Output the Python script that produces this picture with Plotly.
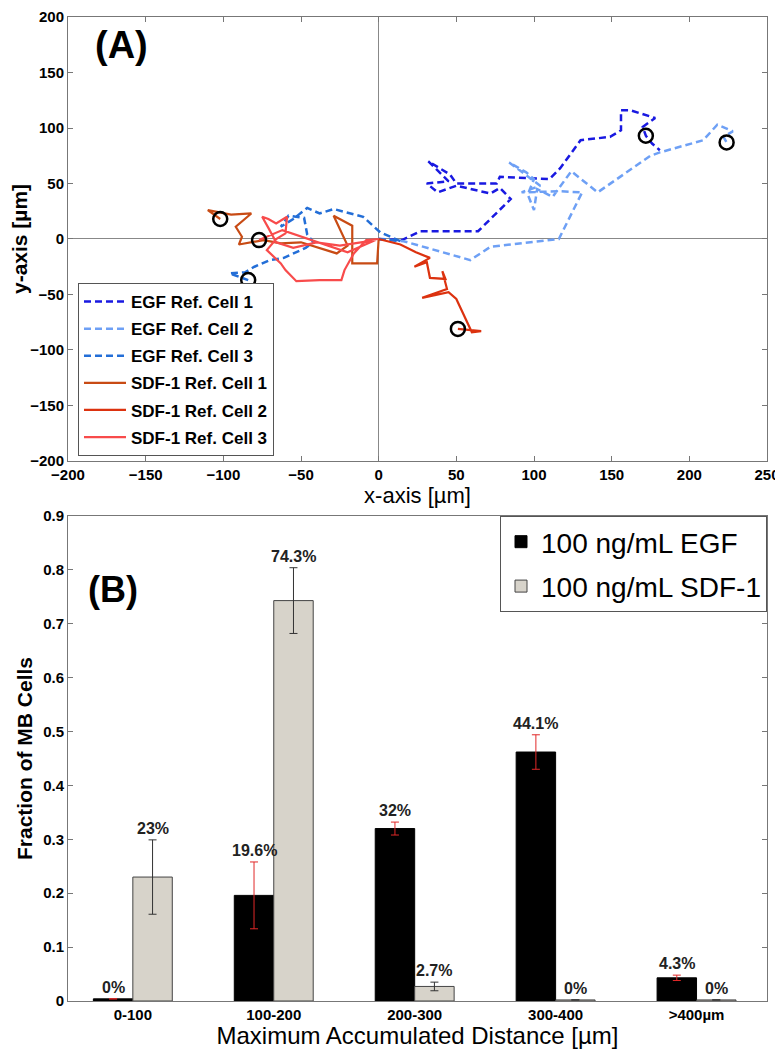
import plotly.graph_objects as go

# ---------------- Panel A data (trajectories, µm) ----------------
egf1_x = [0, 15, 27, 64, 85, 78, 72, 62, 50, 38, 31, 45, 32, 46, 50, 66, 76, 78, 110, 117, 130, 149, 156, 156, 162, 178, 170, 172, 176, 181]
egf1_y = [0, -1, 7, 7, 36, 46, 41, 44, 48, 42, 50, 52, 70, 58, 50, 50, 50, 56, 54, 64, 89, 92, 98, 116, 116, 109, 101, 93, 86, 80]
egf2_x = [0, 16, 59, 72, 116, 131, 117, 92, 104, 84, 95, 100, 96, 100, 102, 112, 124, 141, 175, 181, 209, 218, 228, 222, 224]
egf2_y = [0, -2, -19, -7, 0, 42, 43, 42, 48, 69, 60, 54, 40, 26, 45, 38, 61, 42, 75, 78, 89, 103, 97, 92, 87]
egf3_x = [0, 14, 1, -10, -29, -38, -46, -55, -63, -58, -48, -46, -42, -47, -61, -70, -80, -86, -96, -90, -84]
egf3_y = [0, -2, 6, 20, 27, 23, 28, 18, 11, 21, 19, 4, -3, -8, -17, -19, -25, -30, -31, -34, -37]
sdf1_x = [0, -1, -17, -17, -29, -20, -27, -38, -50, -63, -74, -90, -88, -92, -82, -95, -110, -102]
sdf1_y = [0, -22, -22, 12, 21, -6, -13, -8, -3, -4, -1, -5, 2, 11, 23, 22, 26, 18]
sdf2_x = [0, 14, 24, 33, 23, 31, 33, 43, 41, 44, 28, 45, 50, 60, 66, 51]
sdf2_y = [0, -5, -12, -17, -25, -21, -35, -36, -29, -45, -53, -48, -54, -84, -83, -81]
sdf3_x = [0, -8, -16, -22, -24, -38, -53, -60, -63, -72, -66, -60, -59, -66, -71, -75, -71, -66, -55, -40, -25, -2, -20, -45, -62, -77]
sdf3_y = [0, -1, -13, -28, -37, -37, -38, -28, -22, -10, 0, 5, 20, 14, 18, 20, 10, -3, -8, -3, -6, -1, -12, 0, 8, -1]
end_x = [172, 224, -84, -102, 51, -77]
end_y = [93, 87, -37, 18, -81, -1]

traj_names = ["EGF Ref. Cell 1", "EGF Ref. Cell 2", "EGF Ref. Cell 3",
              "SDF-1 Ref. Cell 1", "SDF-1 Ref. Cell 2", "SDF-1 Ref. Cell 3"]
traj_x = [egf1_x, egf2_x, egf3_x, sdf1_x, sdf2_x, sdf3_x]
traj_y = [egf1_y, egf2_y, egf3_y, sdf1_y, sdf2_y, sdf3_y]
traj_colors = ["rgb(25,25,225)", "rgb(110,160,245)", "rgb(35,110,215)",
               "rgb(200,75,20)", "rgb(220,50,15)", "rgb(248,75,75)"]
traj_dash = ["7px,4px", "7px,4px", "7px,4px", "solid", "solid", "solid"]

# ---------------- Panel B data ----------------
categories = ["0-100", "100-200", "200-300", "300-400", ">400µm"]
egf_vals = [0.004, 0.196, 0.320, 0.462, 0.043]
egf_err = [0.0, 0.062, 0.012, 0.032, 0.005]
sdf_vals = [0.230, 0.743, 0.027, 0.002, 0.002]
sdf_err = [0.069, 0.061, 0.008, 0.0, 0.0]
egf_labels = ["0%", "19.6%", "32%", "44.1%", "4.3%"]
sdf_labels = ["23%", "74.3%", "2.7%", "0%", "0%"]

FONT = "Liberation Sans, Arial, sans-serif"

fig = go.Figure()

for i in range(6):
    fig.add_trace(go.Scatter(
        x=traj_x[i], y=traj_y[i], mode="lines", name=traj_names[i],
        line=dict(color=traj_colors[i], width=2.5 if i < 3 else 2.2, dash=traj_dash[i]),
        xaxis="x", yaxis="y", legend="legend", legendgroup=f"g{i}",
    ))
fig.add_trace(go.Scatter(
    x=end_x, y=end_y, mode="markers", showlegend=False,
    marker=dict(symbol="circle-open", size=14, color="black", line=dict(width=2.5)),
    xaxis="x", yaxis="y",
))

idx = list(range(len(categories)))
bw = 0.28
fig.add_trace(go.Bar(
    x=idx, y=egf_vals, name="100 ng/mL EGF", width=bw, offset=-bw,
    marker=dict(color="black", line=dict(color="black", width=1)),
    error_y=dict(type="data", array=egf_err, color="rgb(225,40,40)", thickness=1, width=4),
    xaxis="x2", yaxis="y2", legend="legend2", legendgroup="b1",
))
fig.add_trace(go.Bar(
    x=idx, y=sdf_vals, name="100 ng/mL SDF-1", width=bw, offset=0,
    marker=dict(color="rgb(215,211,202)", line=dict(color="#444", width=1)),
    error_y=dict(type="data", array=sdf_err, color="#333", thickness=1, width=4),
    xaxis="x2", yaxis="y2", legend="legend2", legendgroup="b2",
))

lab_font = dict(family=FONT, size=16, color="#222", weight="bold")
annotations = []
for i in idx:
    annotations.append(dict(x=i - bw / 2, y=egf_vals[i] + egf_err[i], xref="x2", yref="y2",
                            text=egf_labels[i], showarrow=False, yanchor="bottom", yshift=1,
                            font=lab_font))
    annotations.append(dict(x=i + bw / 2, y=sdf_vals[i] + sdf_err[i], xref="x2", yref="y2",
                            text=sdf_labels[i], showarrow=False, yanchor="bottom", yshift=1,
                            font=lab_font))
annotations.append(dict(x=0.076, y=0.9715, xref="paper", yref="paper", text="(A)", showarrow=False,
                        xanchor="center", yanchor="middle",
                        font=dict(family=FONT, size=38, color="black", weight="bold")))
annotations.append(dict(x=0.064, y=0.4177, xref="paper", yref="paper", text="(B)", showarrow=False,
                        xanchor="center", yanchor="middle",
                        font=dict(family=FONT, size=36, color="black", weight="bold")))

tickfont = dict(family=FONT, size=15, color="black", weight="bold")
axis_common = dict(showline=True, linecolor="#777", linewidth=1, mirror="ticks",
                   ticks="inside", ticklen=5, tickcolor="#777", showgrid=False,
                   tickfont=tickfont, automargin=False, ticklabeloverflow="allow")

fig.update_layout(
    width=775, height=1041,
    margin=dict(l=60, r=16, t=9, b=48),
    paper_bgcolor="white", plot_bgcolor="white",
    barmode="overlay",
    xaxis=dict(domain=[0, 1], anchor="y", range=[-200, 250], tickvals=list(range(-200, 251, 50)),
               zeroline=True, zerolinecolor="#888", zerolinewidth=1,
               title=dict(text="x-axis [µm]", standoff=0,
                          font=dict(family=FONT, size=22, color="black")),
               **axis_common),
    yaxis=dict(domain=[0.5488, 1], anchor="x", range=[-200, 200], tickvals=list(range(-200, 201, 50)),
               zeroline=True, zerolinecolor="#888", zerolinewidth=1,
               title=dict(text="y-axis [µm]", standoff=3,
                          font=dict(family=FONT, size=21, color="black", weight="bold")),
               **axis_common),
    xaxis2=dict(domain=[0, 1], anchor="y2", range=[-0.46, 4.5], tickvals=idx, ticktext=categories,
                zeroline=False,
                title=dict(text="Maximum Accumulated Distance [µm]", standoff=0,
                           font=dict(family=FONT, size=24, color="black")),
                **{**axis_common, "ticks": ""}),
    yaxis2=dict(domain=[0, 0.4929], anchor="x2", range=[0, 0.9], tickvals=[i / 10 for i in range(10)],
                ticktext=["0"] + [f"{i / 10:.1f}" for i in range(1, 10)], zeroline=False,
                title=dict(text="Fraction of MB Cells", standoff=4,
                           font=dict(family=FONT, size=21, color="black", weight="bold")),
                **axis_common),
    legend=dict(x=0.0143, y=0.7297, xanchor="left", yanchor="top", bgcolor="white",
                bordercolor="#555", borderwidth=1, tracegroupgap=2, itemwidth=42,
                font=dict(family=FONT, size=17, color="black", weight="bold")),
    legend2=dict(x=1.0, y=0.4929, xref="paper", yref="paper", xanchor="right", yanchor="top",
                 bgcolor="white", bordercolor="#555", borderwidth=1, tracegroupgap=5,
                 font=dict(family=FONT, size=28, color="black")),
    annotations=annotations,
)

fig.write_html("out.html")
